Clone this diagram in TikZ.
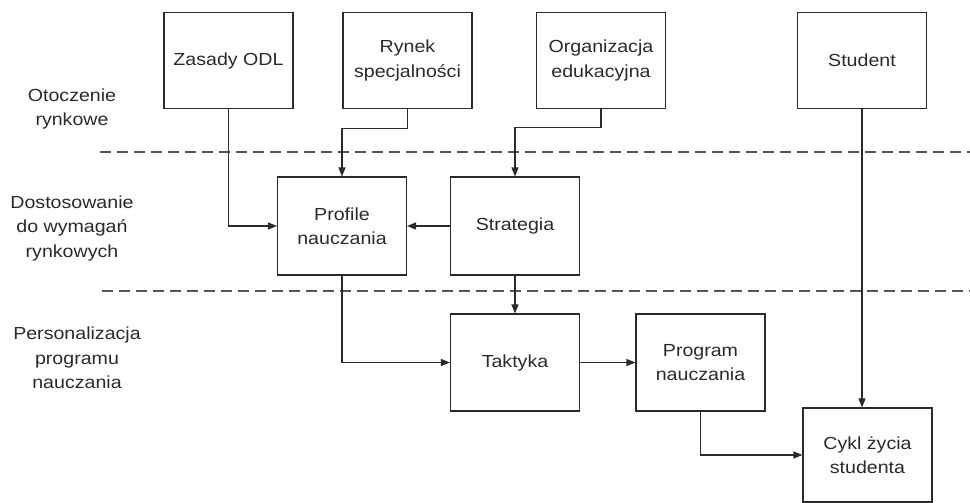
\documentclass[tikz,border=0pt]{standalone}
\usepackage{fontspec}
\setmainfont[FakeStretch=1.12]{Liberation Sans}
\usetikzlibrary{arrows.meta}
\definecolor{ink}{HTML}{2A2A2A}
\definecolor{dash}{HTML}{555555}
\begin{document}
\begin{tikzpicture}[x=1pt,y=-1pt,
  txt/.style={font=\fontsize{17.5}{24.5}\selectfont, text=ink, align=center},
  box/.style={txt, draw=ink, line width=1.1pt, rectangle, inner sep=0pt,
    minimum width=129pt, minimum height=96pt},
  conn/.style={draw=ink, line width=1.1pt, -{Triangle[length=9pt,width=7pt]}},
  sepline/.style={draw=dash, line width=1.1pt, dash pattern=on 11pt off 6pt}]
\useasboundingbox (0,0) rectangle (970,503);

% separators
\coordinate (s1a) at (100,152);
\coordinate (s1b) at (970,152);
\coordinate (s2a) at (102,291);
\coordinate (s2b) at (970,291);
\draw[sepline] (s1a) -- (s1b);
\draw[sepline] (s2a) -- (s2b);

% left labels
\node[txt] (l1) at (72,109) {Otoczenie\\rynkowe};
\node[txt] (l2) at (72,228) {Dostosowanie\\do wymagań\\rynkowych};
\node[txt] (l3) at (77,358) {Personalizacja\\programu\\nauczania};

% boxes
\node[box] (zas) at (228.5,60.5) {Zasady ODL};
\node[box] (ryn) at (407.5,60.5) {Rynek\\specjalności};
\node[box] (org) at (601,60.5) {Organizacja\\edukacyjna};
\node[box] (stu) at (862,60.5) {Student};
\node[box, minimum height=98pt] (prof) at (342,226) {Profile\\nauczania};
\node[box, minimum height=98pt] (strat) at (515,226) {Strategia};
\node[box, minimum height=97pt] (takt) at (515,362.5) {Taktyka};
\node[box, minimum height=97pt] (prog) at (700.5,362.5) {Program\\nauczania};
\node[box, minimum height=94pt] (cykl) at (867.5,455) {Cykl życia\\studenta};

% connectors
\draw[conn] (zas.south) |- (prof.west);
\draw[conn] (ryn.south) -- ++(0,19) -| (prof.north);
\draw[conn] (org.south) -- ++(0,18) -| (strat.north);
\draw[conn] (strat.west) -- (prof.east);
\draw[conn] (prof.south) |- (takt.west);
\draw[conn] (strat.south) -- (takt.north);
\draw[conn] (takt.east) -- (prog.west);
\draw[conn] (prog.south) |- (cykl.west);
\draw[conn] (stu.south) -- (stu.south |- cykl.north);
\end{tikzpicture}
\end{document}
